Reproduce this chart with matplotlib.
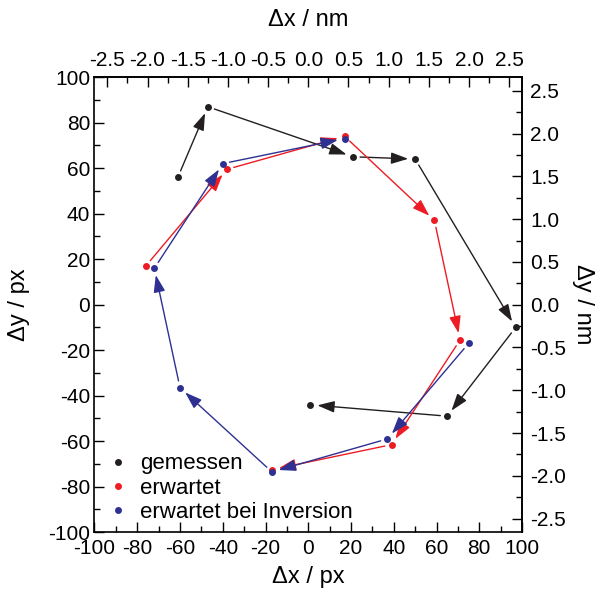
import matplotlib
matplotlib.use("Agg")
import matplotlib.pyplot as plt
from matplotlib.ticker import MultipleLocator, FormatStrFormatter

plt.rcParams['font.family'] = ['Liberation Sans', 'DejaVu Sans']
plt.rcParams['axes.unicode_minus'] = False

# pixel -> nanometre conversion of the image scale
PX_PER_NM = 37.6

# measured drift positions (px), in acquisition order
gemessen_x = [-61, -47, 21, 50, 97, 65, 1]
gemessen_y = [56, 87, 65, 64, -10, -49, -44]

# expected positions
erwartet_x = [-76, -38, 17, 59, 71, 39, -17]
erwartet_y = [17, 59.5, 74, 37, -15.5, -61.5, -72.5]

# expected positions with inverted sense of rotation
inversion_x = [75, 37, -17, -60, -72, -40, 17]
inversion_y = [-17, -59, -73.5, -36.5, 16, 62, 73]

labels = ["gemessen", "erwartet", "erwartet bei Inversion"]
colors = ["#231f20", "#ed1c24", "#2e3192"]
series = [(gemessen_x, gemessen_y), (erwartet_x, erwartet_y), (inversion_x, inversion_y)]

TICK_FS = 15
LABEL_FS = 17

fig = plt.figure(figsize=(5.98, 5.98), dpi=100)
ax = fig.add_axes([0.158, 0.110, 0.715, 0.761])

arrow_style = "-|>,head_length=0.65,head_width=0.22"
for (xs, ys), col, lab in zip(series, colors, labels):
    for i in range(len(xs) - 1):
        ax.annotate("", xy=(xs[i + 1], ys[i + 1]), xytext=(xs[i], ys[i]),
                    arrowprops=dict(arrowstyle=arrow_style, color=col, lw=1.0,
                                    shrinkA=5, shrinkB=5, mutation_scale=16))
    ax.plot(xs, ys, linestyle="none", marker="o", ms=5, color=col,
            markeredgewidth=0, label=lab, zorder=3)

ax.set_xlim(-100, 100)
ax.set_ylim(-100, 100)
ax.xaxis.set_major_locator(MultipleLocator(20))
ax.xaxis.set_minor_locator(MultipleLocator(10))
ax.yaxis.set_major_locator(MultipleLocator(20))
ax.yaxis.set_minor_locator(MultipleLocator(10))
ax.tick_params(which="both", direction="in", labelsize=TICK_FS, width=1.0)
ax.tick_params(which="major", length=7)
ax.tick_params(which="minor", length=4)
ax.tick_params(axis="x", pad=5)
ax.tick_params(axis="y", pad=3)
for sp in ax.spines.values():
    sp.set_linewidth(1.2)

ax.set_xlabel("Δx / px", fontsize=LABEL_FS, labelpad=6)
ax.set_ylabel("Δy / px", fontsize=LABEL_FS, labelpad=13)


def px2nm(v):
    return v / PX_PER_NM


def nm2px(v):
    return v * PX_PER_NM


top = ax.secondary_xaxis("top", functions=(px2nm, nm2px))
right = ax.secondary_yaxis("right", functions=(px2nm, nm2px))
for sec in (top, right):
    axis = sec.xaxis if sec is top else sec.yaxis
    axis.set_major_locator(MultipleLocator(0.5))
    axis.set_minor_locator(MultipleLocator(0.25))
    axis.set_major_formatter(FormatStrFormatter("%.1f"))
    sec.tick_params(which="both", direction="in", labelsize=TICK_FS, width=1.0)
    sec.tick_params(which="major", length=7)
    sec.tick_params(which="minor", length=4)
    for sp in sec.spines.values():
        sp.set_linewidth(1.2)
top.tick_params(pad=5)
right.tick_params(pad=6)
top.set_xlabel("Δx / nm", fontsize=LABEL_FS, labelpad=18)
right.set_ylabel("Δy / nm", fontsize=LABEL_FS, rotation=-90, labelpad=20)

ax.legend(loc="lower left", bbox_to_anchor=(-0.008, -0.014), frameon=False,
          fontsize=16, handlelength=1.0, handletextpad=0.5, labelspacing=0.15,
          markerscale=1.0, borderaxespad=0.3)

fig.savefig("out.png", dpi=100)
